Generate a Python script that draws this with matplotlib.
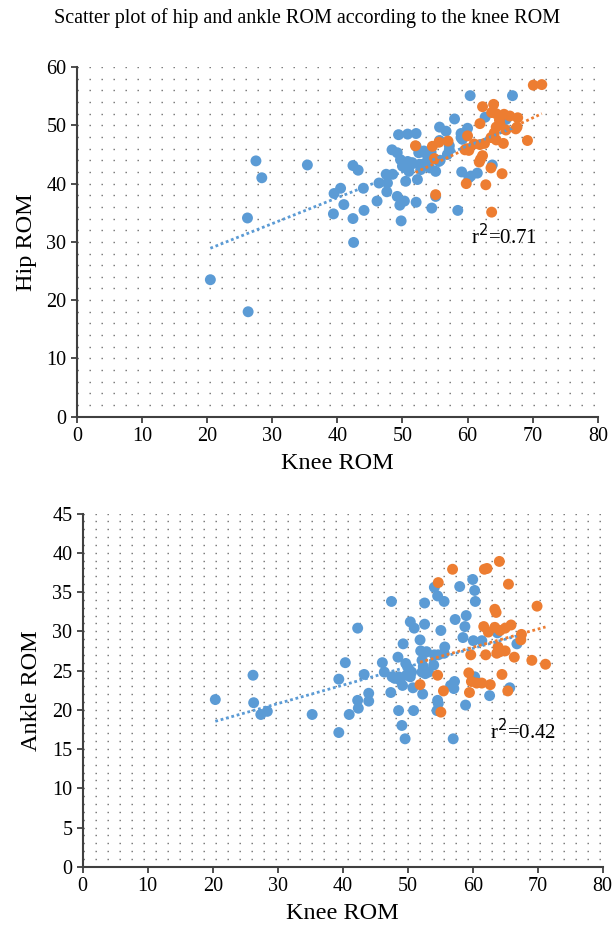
import matplotlib
matplotlib.use("Agg")
import matplotlib.pyplot as plt
import numpy as np

plt.rcParams['font.family'] = ['Liberation Serif', 'DejaVu Serif']

blue = '#5B9BD5'
orange = '#ED7D31'

# top panel: knee vs hip ROM, group 1 (blue)
hip_knee_b = [20.5, 26.3, 26.2, 27.5, 28.4, 35.4, 39.4, 39.5, 40.5, 41.0, 42.4, 43.2, 42.4, 42.5,
              44.0, 44.1, 46.1, 46.4, 47.5, 47.7, 47.6, 48.5, 48.4, 49.2, 49.4, 50.8, 52.1, 49.7,
              50.3, 50.8, 51.5, 51.0, 50.5, 49.2, 49.6, 50.3, 49.8, 52.1, 52.3, 52.1, 52.5, 53.4,
              54.0, 52.6, 52.8, 54.2, 55.1, 55.6, 54.5, 55.1, 55.7, 56.7, 55.7, 57.2, 57.2, 56.9,
              58.0, 59.0, 59.0, 60.0, 59.1, 60.5, 61.5, 58.5, 63.8, 62.7, 60.4, 66.9, 65.9,
              53.3, 53.9, 54.4, 52.8, 53.6, 51.3, 55.8, 60.2, 59.2, 50.0]
hip_b = [23.5, 18.0, 34.1, 43.9, 41.0, 43.2, 34.8, 38.3, 39.2, 36.4, 43.1, 42.3, 34.0, 29.9,
         39.2, 35.4, 37.0, 40.1, 41.6, 40.1, 38.6, 41.6, 45.8, 45.3, 48.4, 48.5, 48.6, 44.1,
         43.0, 43.8, 43.6, 42.1, 40.4, 37.8, 36.3, 37.0, 33.6, 36.8, 40.7, 46.4, 45.3, 45.3,
         44.7, 43.3, 42.4, 42.7, 42.1, 43.8, 35.8, 37.8, 49.7, 49.0, 47.4, 46.5, 45.8, 45.0,
         51.1, 48.6, 47.9, 49.5, 42.0, 41.3, 41.8, 35.4, 43.2, 51.4, 55.1, 55.1, 51.0,
         45.6, 45.0, 45.4, 43.3, 43.6, 43.3, 44.0, 41.0, 47.6, 43.0]

# top panel, group 2 (orange)
hip_knee_o = [52.0, 54.6, 55.6, 57.0, 54.9, 55.1, 59.6, 60.2, 60.0, 61.0, 61.9, 62.6, 60.0, 61.9,
              62.3, 64.0, 63.7, 64.4, 65.6, 66.5, 67.7, 64.9, 65.0, 64.4, 65.9, 67.6, 67.4, 64.1,
              63.6, 64.4, 69.2, 65.5, 62.3, 62.0, 61.8, 63.6, 65.3, 59.8, 62.8, 63.7, 70.1, 71.4]
hip_o = [46.5, 46.4, 47.1, 47.3, 44.3, 38.1, 45.8, 45.7, 46.0, 46.8, 46.7, 46.9, 48.2, 50.3,
         53.2, 53.6, 52.2, 52.0, 51.9, 51.6, 51.3, 50.9, 50.1, 49.7, 49.2, 49.7, 49.4, 48.7,
         47.9, 47.5, 47.4, 46.9, 44.8, 44.2, 43.7, 42.7, 41.7, 40.0, 39.8, 35.1, 56.9, 57.0]

# bottom panel: knee vs ankle ROM, group 1 (blue)
ank_knee_b = [20.4, 26.2, 26.3, 27.4, 28.4, 35.3, 39.4, 40.4, 39.4, 42.3, 42.3, 42.4, 41.0, 43.3,
              44.0, 44.0, 46.1, 46.4, 47.4, 47.5, 47.6, 48.0, 48.6, 48.8, 48.5, 49.2, 48.6, 49.1,
              49.6, 49.3, 49.7, 50.1, 49.8, 50.4, 50.6, 50.4, 51.0, 50.8, 50.9, 51.9, 52.0, 52.7,
              52.9, 52.2, 52.4, 52.2, 52.7, 53.2, 54.0, 52.3, 52.6, 52.6, 54.1, 54.6, 55.6, 55.1,
              54.1, 54.7, 55.7, 55.6, 54.6, 54.7, 54.5, 56.6, 57.2, 57.1, 57.3, 58.0, 58.5, 58.8,
              59.0, 58.9, 57.0, 60.0, 60.3, 60.4, 60.1, 61.4, 60.3, 62.6, 63.8, 65.7, 66.8]
ankle_b = [21.3, 24.4, 20.9, 19.4, 19.8, 19.4, 23.9, 26.0, 17.1, 30.4, 21.2, 20.2, 19.4, 24.5,
           22.1, 21.1, 26.0, 24.8, 22.2, 33.8, 24.2, 24.0, 24.2, 23.8, 26.7, 23.1, 19.9, 18.0,
           16.3, 28.4, 25.9, 25.3, 24.4, 24.2, 24.8, 31.2, 30.4, 22.8, 19.9, 28.9, 27.5, 27.3,
           27.4, 26.3, 25.5, 24.8, 24.6, 24.8, 25.7, 22.0, 30.9, 33.6, 35.6, 34.5, 33.8, 30.1,
           27.0, 27.0, 28.0, 27.2, 21.2, 20.8, 19.9, 23.1, 23.6, 22.7, 31.5, 35.7, 29.2, 30.6,
           32.0, 20.6, 16.3, 36.6, 35.2, 33.8, 28.8, 28.8, 24.2, 21.8, 29.8, 22.8, 28.4]

# bottom panel, group 2 (orange)
ank_knee_o = [54.7, 56.9, 61.8, 62.2, 64.1, 65.5, 63.4, 63.6, 69.9, 61.7, 62.4, 63.4, 64.2, 65.0,
              65.9, 67.5, 67.4, 63.9, 64.2, 65.0, 63.7, 59.7, 62.0, 66.4, 69.1, 71.2, 54.6, 59.4,
              64.5, 51.9, 59.8, 60.6, 61.4, 62.7, 55.5, 59.5, 65.4, 55.1]
ankle_o = [36.2, 37.9, 37.9, 38.0, 38.9, 36.0, 32.8, 32.4, 33.2, 30.6, 29.9, 30.5, 30.1, 30.4,
           30.8, 29.6, 28.9, 28.0, 27.4, 27.5, 27.2, 27.0, 27.0, 26.7, 26.3, 25.8, 24.4, 24.7,
           24.5, 23.2, 23.6, 23.4, 23.4, 23.2, 22.4, 22.2, 22.4, 19.7]

panels = [
    (hip_knee_b, hip_b, hip_knee_o, hip_o, 'Hip ROM', 60, 10, 2, 'r$^2$=0.71', (60.6, 29.6)),
    (ank_knee_b, ankle_b, ank_knee_o, ankle_o, 'Ankle ROM', 45, 5, 1, 'r$^2$=0.42', (62.6, 16.3)),
]
boxes = [[0.125, 0.553, 0.847, 0.375], [0.1345, 0.070, 0.8455, 0.379]]

fig = plt.figure(figsize=(6.15, 9.32), dpi=100)
fig.suptitle('Scatter plot of hip and ankle ROM according to the knee ROM',
             y=0.991, fontsize=14.5)

for box, (xb, yb, xo, yo, ylab, ymax, ymaj, ymin, rtxt, rpos) in zip(boxes, panels):
    ax = fig.add_axes(box)
    ax.set_xlim(0, 80)
    ax.set_ylim(0, ymax)
    ax.set_xticks(np.arange(0, 81, 10))
    ax.set_yticks(np.arange(0, ymax + 1, ymaj))
    ax.set_yticks(np.arange(0, ymax + 0.1, ymin), minor=True)
    ax.tick_params(axis='y', which='minor', length=0)
    ax.tick_params(which='major', length=4, width=1.3, color='#404040',
                   labelsize=14.5, direction='out')
    ax.grid(True, which='both', axis='y', color='#707070', linewidth=1.0,
            linestyle=(0, (1.0, 7.64)))
    ax.set_axisbelow(True)
    for s in ['top', 'right']:
        ax.spines[s].set_visible(False)
    for s in ['left', 'bottom']:
        ax.spines[s].set_color('#404040')
        ax.spines[s].set_linewidth(1.5)

    for xs, ys, c in [(xb, yb, blue), (xo, yo, orange)]:
        xs = np.array(xs)
        ys = np.array(ys)
        k, b = np.polyfit(xs, ys, 1)
        xl = np.array([xs.min(), xs.max()])
        ax.plot(xl, k * xl + b, color=c, linewidth=2, linestyle=(0, (1.0, 1.0)), zorder=3)
        ax.scatter(xs, ys, s=62, color=c, edgecolors='none', zorder=2)

    ax.text(rpos[0], rpos[1], rtxt, fontsize=15)
    ax.set_xlabel('Knee ROM', fontsize=17.5, labelpad=5)
    ax.set_ylabel(ylab, fontsize=17.5, labelpad=7)

fig.savefig('out.png', dpi=100)
